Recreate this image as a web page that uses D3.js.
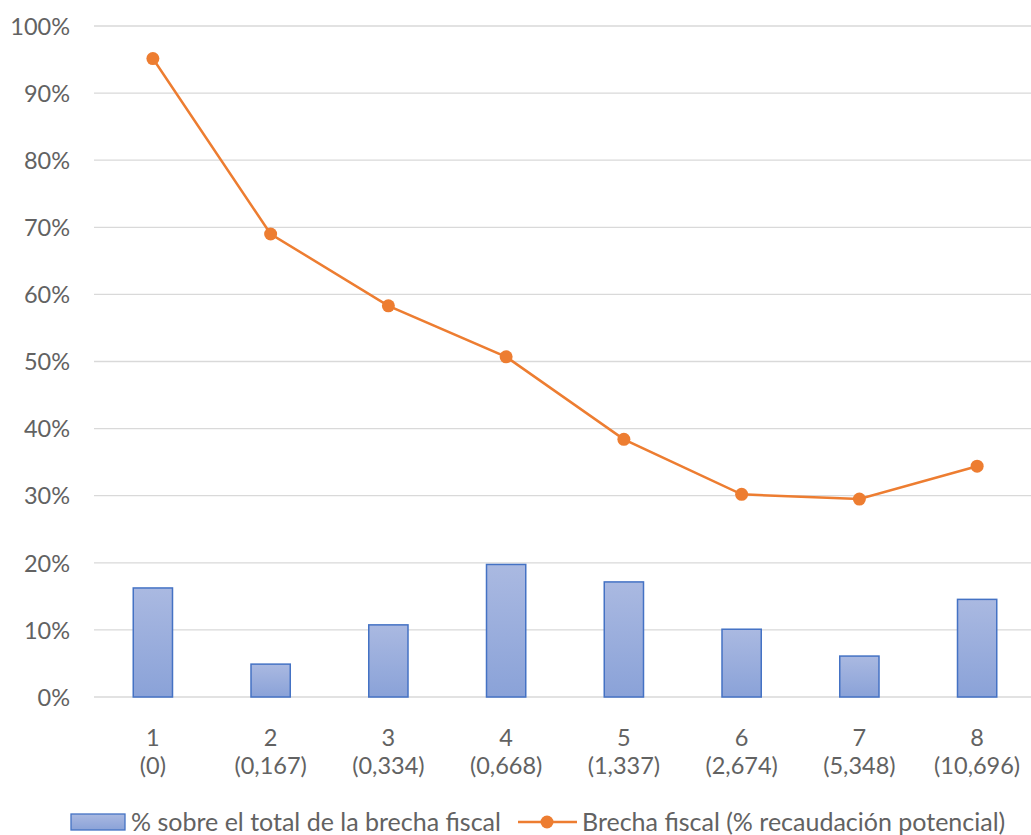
<!DOCTYPE html>
<html>
<head>
<meta charset="utf-8">
<script src="https://cdn.jsdelivr.net/npm/d3@7"></script>
<style>
  body { margin:0; background:#fff; }
  text { font-family: Lato, "Liberation Sans", sans-serif; fill:#626262; }
</style>
</head>
<body>
<div class="chart"></div>
<script>
// data
var deciles = ["1","2","3","4","5","6","7","8"];
var thresholds = ["(0)","(0,167)","(0,334)","(0,668)","(1,337)","(2,674)","(5,348)","(10,696)"];
var shareOfGap = [0.1625, 0.049, 0.1075, 0.1975, 0.1715, 0.101, 0.061, 0.1455];
var fiscalGap = [0.9515, 0.690, 0.583, 0.507, 0.384, 0.302, 0.295, 0.344];
var yTicks = [0,0.1,0.2,0.3,0.4,0.5,0.6,0.7,0.8,0.9,1];
var barLabel = "% sobre el total de la brecha fiscal";
var lineLabel = "Brecha fiscal (% recaudación potencial)";

var W = 1031, H = 835;
var svg = d3.select(".chart").append("svg").attr("width", W).attr("height", H);

var defs = svg.append("defs");
var grad = defs.append("linearGradient").attr("id","barGrad")
               .attr("x1",0).attr("y1",0).attr("x2",0).attr("y2",1);
grad.append("stop").attr("offset","0%").attr("stop-color","#aab9e1");
grad.append("stop").attr("offset","100%").attr("stop-color","#8aa2d8");

var x = d3.scaleBand().domain(deciles).range([94, 1036]);
var y = d3.scaleLinear().domain([0,1]).range([697, 26]);

// gridlines
svg.append("g").selectAll("line").data(yTicks).enter().append("line")
   .attr("x1", 94).attr("x2", W)
   .attr("y1", d => y(d)).attr("y2", d => y(d))
   .attr("stroke","#d9d9d9").attr("stroke-width",1.3);

// y axis labels
var yAxis = d3.axisLeft(y).tickValues(yTicks).tickFormat(d3.format(".0%")).tickSize(0).tickPadding(24);
var yg = svg.append("g").attr("transform","translate(94,0)").call(yAxis);
yg.select(".domain").remove();
yg.selectAll("text").attr("font-size","23.5px").style("font-family","Lato, sans-serif").attr("fill","#626262").attr("dy","0.35em");

// x axis labels (two lines)
var xg = svg.append("g");
xg.selectAll("text.dec").data(deciles).enter().append("text").attr("class","dec")
  .attr("x", d => x(d) + x.bandwidth()/2).attr("y", 746)
  .attr("text-anchor","middle").attr("font-size","23.5px").text(d => d);
xg.selectAll("text.thr").data(thresholds).enter().append("text").attr("class","thr")
  .attr("x", (d,i) => x(deciles[i]) + x.bandwidth()/2).attr("y", 774)
  .attr("text-anchor","middle").attr("font-size","23.5px").text(d => d);

// bars
var bw = x.bandwidth()/3;
svg.append("g").selectAll("rect").data(shareOfGap).enter().append("rect")
   .attr("x", (d,i) => x(deciles[i]) + x.bandwidth()/2 - bw/2)
   .attr("y", d => y(d))
   .attr("width", bw)
   .attr("height", d => y(0) - y(d))
   .attr("fill","url(#barGrad)")
   .attr("stroke","#4472c4").attr("stroke-width",1.5);

// line
var line = d3.line()
   .x((d,i) => x(deciles[i]) + x.bandwidth()/2)
   .y(d => y(d));
svg.append("path").datum(fiscalGap).attr("d", line)
   .attr("fill","none").attr("stroke","#ed7d31").attr("stroke-width",2.5);
svg.append("g").selectAll("circle").data(fiscalGap).enter().append("circle")
   .attr("cx", (d,i) => x(deciles[i]) + x.bandwidth()/2)
   .attr("cy", d => y(d)).attr("r", 6.5)
   .attr("fill","#ed7d31");

// legend
var lg = svg.append("g");
lg.append("rect").attr("x",71).attr("y",814).attr("width",54).attr("height",16)
  .attr("fill","url(#barGrad)").attr("stroke","#4472c4").attr("stroke-width",1.3);
lg.append("text").attr("x",131).attr("y",831).attr("font-size","25px").text(barLabel);
lg.append("line").attr("x1",518).attr("x2",577).attr("y1",822).attr("y2",822)
  .attr("stroke","#ed7d31").attr("stroke-width",2.5);
lg.append("circle").attr("cx",547).attr("cy",822).attr("r",6.5).attr("fill","#ed7d31");
lg.append("text").attr("x",582).attr("y",831).attr("font-size","25px").text(lineLabel);
</script>
</body>
</html>
